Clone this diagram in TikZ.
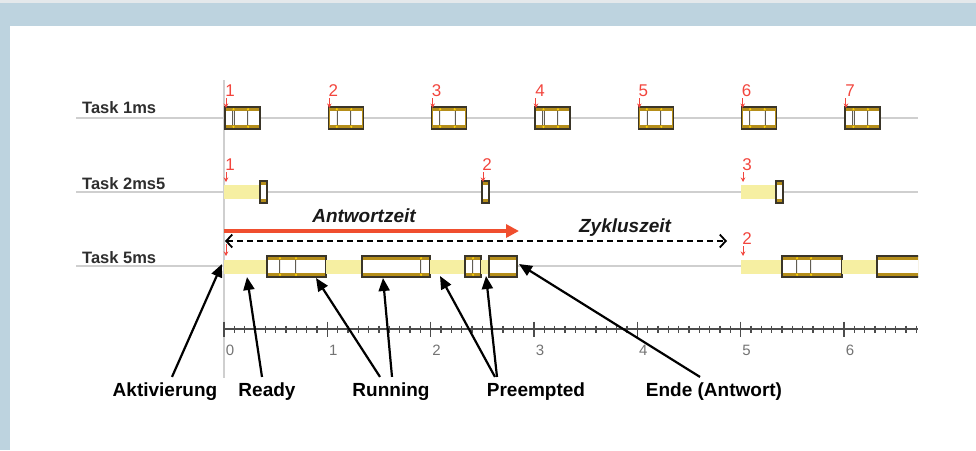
\documentclass[tikz,border=0pt]{standalone}
\usepackage{fontspec}
\setmainfont{Liberation Sans}
\usetikzlibrary{arrows.meta}
\definecolor{band}{HTML}{BDD3DF}
\definecolor{topstrip}{HTML}{E4E8EB}
\definecolor{boxgold}{HTML}{B58E1A}
\definecolor{boxedge}{HTML}{3A3528}
\definecolor{readyyel}{HTML}{F6EFA2}
\definecolor{rowgray}{HTML}{CFCFCF}
\definecolor{actred}{HTML}{F2453D}
\definecolor{awred}{HTML}{F04E2E}
\definecolor{labelgray}{HTML}{2E2E2E}
\newcommand\taskbox[4]{%
  \fill[boxgold] (#1,#3-#4) rectangle (#2,#3+#4);
  \fill[white] (#1+1.2,#3-#4+4.2) rectangle (#2-1.2,#3+#4-4.2);
  \draw[boxedge,line width=1.2pt] (#1,#3-#4) rectangle (#2,#3+#4);}
\newcommand\taskdiv[3]{%
  \draw[boxedge!80,line width=2.2pt] (#1,#2-#3+4.2) -- (#1,#2+#3-4.2);
  \draw[gray!15,line width=0.8pt] (#1,#2-#3+4.2) -- (#1,#2+#3-4.2);
  \fill[yellow!70!orange] (#1,#2-#3+2.2) circle (1.2);
  \fill[yellow!70!orange] (#1,#2+#3-2.2) circle (1.2);}
\newcommand\readybar[3]{%
  \fill[readyyel] (#1,#3-7) rectangle (#2,#3+7);}
\newcommand\actmark[4]{%
  \node[actnum] (#1) at (#2+6,#3-27) {#4};
  \draw[actarrow] (#2+2,#3-20) -- (#2+2,#3-10);}
\begin{document}
\begin{tikzpicture}[x=1pt,y=-1pt,
  actnum/.style={text=actred,font=\fontsize{17}{19}\selectfont,inner sep=0pt},
  actarrow/.style={actred,line width=1pt,-{Stealth[length=4.5pt,width=4.5pt]}},
  tasklabel/.style={text=labelgray,font=\fontsize{16.5}{18}\selectfont\bfseries,inner sep=0pt,anchor=base west},
  rowline/.style={rowgray,line width=1.2pt},
  axisline/.style={black!70,line width=1.3pt},
  axnum/.style={text=black!55,font=\fontsize{15}{17}\selectfont,inner sep=0pt},
  biglabel/.style={text=black,font=\fontsize{19}{22}\selectfont\bfseries,inner sep=0pt},
  spanlabel/.style={text=black!90,font=\fontsize{19}{22}\selectfont\bfseries\itshape,inner sep=0pt},
  callout/.style={black,line width=2.2pt,-{Triangle[length=13pt,width=11pt]}}]
\useasboundingbox (0,0) rectangle (976,450);
% frame
\fill[topstrip] (0,0) rectangle (976,3);
\fill[band] (0,3) rectangle (976,26);
\fill[band] (0,26) rectangle (10,450);
% rows
\draw[rowline] (76,118) -- (918,118);
\draw[rowline] (76,192) -- (918,192);
\draw[rowline] (76,266) -- (918,266);
\draw[rowgray,line width=1.2pt] (224,80) -- (224,378);
\node[tasklabel] (l1) at (82,113) {Task 1ms};
\node[tasklabel] (l2) at (82,189) {Task 2ms5};
\node[tasklabel] (l3) at (82,263) {Task 5ms};
% Task 1ms
\foreach \i in {0,...,6} {
  \pgfmathsetmacro\xx{224+103.33*\i}
  \pgfmathtruncatemacro\nn{\i+1}
  \taskbox{\xx+1}{\xx+36}{118}{11}
  \taskdiv{\xx+9.5}{118}{11}
  \taskdiv{\xx+24}{118}{11}
  \actmark{a1n\i}{\xx}{118}{\nn}
}
% Task 2ms5
\readybar{224}{260}{192}
\taskbox{260}{267}{192}{11}
\actmark{a2n0}{224}{192}{1}
\taskbox{482}{489}{192}{11}
\actmark{a2n1}{481}{192}{2}
\readybar{741}{776}{192}
\taskbox{776}{783}{192}{11}
\actmark{a2n2}{741}{192}{3}
% Task 5ms, instance 1
\readybar{224}{267}{266.5}
\taskbox{267}{326}{266.5}{10.5}
\taskdiv{280}{266.5}{10.5}
\taskdiv{296}{266.5}{10.5}
\readybar{326}{362}{266.5}
\taskbox{362}{430}{266.5}{10.5}
\taskdiv{421}{266.5}{10.5}
\readybar{430}{465}{266.5}
\taskbox{465}{481}{266.5}{10.5}
\taskdiv{473}{266.5}{10.5}
\readybar{481}{489}{266.5}
\taskbox{489}{517}{266.5}{10.5}
\draw[actarrow] (226,244) -- (226,256);
% Task 5ms, instance 2
\readybar{741}{782}{266.5}
\taskbox{782}{842}{266.5}{10.5}
\taskdiv{797}{266.5}{10.5}
\taskdiv{811}{266.5}{10.5}
\readybar{842}{877}{266.5}
\begin{scope}
  \clip (870,240) rectangle (918,290);
  \taskbox{877}{930}{266.5}{10.5}
\end{scope}
\actmark{a3n1}{741}{266}{2}
% spans
\coordinate (aw0) at (224,231);
\coordinate (aw1) at (519,231);
\draw[awred,line width=4pt,-{Triangle[length=13pt,width=13pt]}] (aw0) -- (aw1);
\node[spanlabel] (awl) at (364,216) {Antwortzeit};
\coordinate (zk0) at (225,241);
\coordinate (zk1) at (727,241);
\draw[black,line width=1.8pt,dash pattern=on 6pt off 4pt,{Straight Barb[length=6pt,width=13pt]}-{Straight Barb[length=6pt,width=13pt]}] (zk0) -- (zk1);
\node[spanlabel] (zkl) at (625,228) {Zykluszeit};
% axis
\draw[axisline] (224,329) -- (918,329);
\foreach \i in {0,...,67} {
  \pgfmathsetmacro\xx{224+10.333*\i}
  \draw[axisline] (\xx,325.5) -- (\xx,332.5);
}
\foreach \i in {0,...,6} {
  \pgfmathsetmacro\xx{224+103.33*\i}
  \draw[axisline] (\xx,321.5) -- (\xx,336.5);
  \node[axnum] (ax\i) at (\xx+6,350) {\i};
}
% bottom labels
\node[biglabel] (lAkt) at (165,392) {Aktivierung};
\node[biglabel] (lReady) at (267,392) {Ready};
\node[biglabel] (lRun) at (391,392) {Running};
\node[biglabel] (lPre) at (536,392) {Preempted};
\node[biglabel] (lEnde) at (714,392) {Ende (Antwort)};
\coordinate (pAkt) at (222,264);
\coordinate (pReady) at (247,277);
\coordinate (pRun1) at (316,278);
\coordinate (pRun2) at (383,278);
\coordinate (pPre1) at (440,276);
\coordinate (pPre2) at (486,276);
\coordinate (pEnde) at (519,264);
\draw[callout] ([xshift=7pt,yshift=6pt]lAkt.north) -- (pAkt);
\draw[callout] ([xshift=-5pt,yshift=6pt]lReady.north) -- (pReady);
\draw[callout] ([xshift=-11pt,yshift=6pt]lRun.north) -- (pRun1);
\draw[callout] ([xshift=1pt,yshift=6pt]lRun.north) -- (pRun2);
\draw[callout] ([xshift=-41pt,yshift=6pt]lPre.north) -- (pPre1);
\draw[callout] ([xshift=-39pt,yshift=6pt]lPre.north) -- (pPre2);
\draw[callout] ([xshift=-14pt,yshift=6pt]lEnde.north) -- (pEnde);
\end{tikzpicture}
\end{document}
